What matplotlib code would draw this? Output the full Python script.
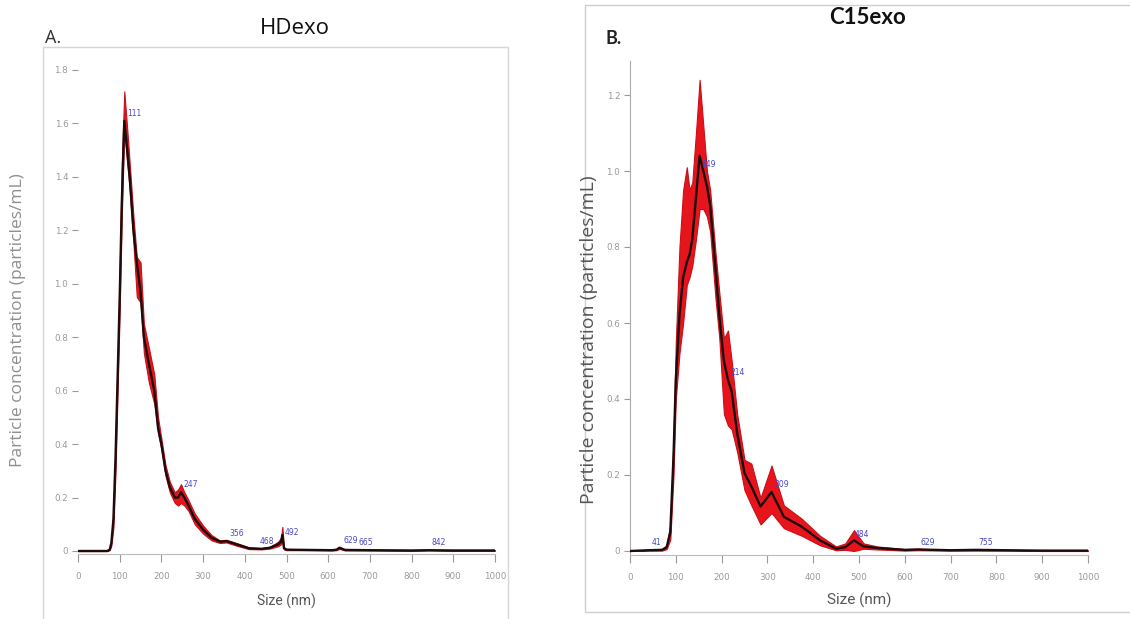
import numpy as np
import matplotlib
matplotlib.use("Agg")
import matplotlib.pyplot as plt
from matplotlib.patches import Rectangle

W, H = 1130, 619

# ---- HDexo (panel A) ----
hd_size = [0, 70, 76, 80, 85, 90, 95, 100, 105, 111, 118, 124, 133, 141, 150, 158, 170, 183, 192, 200,
           210, 220, 232, 240, 247, 255, 265, 280, 300, 320, 340, 356, 380, 410, 440, 460, 469, 480, 487, 490,
           494, 500, 550, 610, 620, 627, 640, 700, 800, 842, 900, 1000]
hd_mean = [0, 0, 0.005, 0.03, 0.12, 0.35, 0.65, 0.95, 1.3, 1.61, 1.5, 1.4, 1.2, 1.08, 0.97, 0.8, 0.7, 0.6, 0.46, 0.4,
           0.3, 0.24, 0.2, 0.2, 0.22, 0.2, 0.17, 0.12, 0.08, 0.05, 0.035, 0.037, 0.025, 0.01, 0.008, 0.012, 0.018, 0.025, 0.035, 0.06,
           0.01, 0.005, 0.004, 0.003, 0.005, 0.012, 0.004, 0.003, 0.002, 0.003, 0.002, 0.002]
hd_hi = [0, 0, 0.008, 0.04, 0.15, 0.4, 0.72, 1.05, 1.45, 1.72, 1.58, 1.45, 1.25, 1.1, 1.08, 0.85, 0.76, 0.66, 0.5, 0.42,
         0.32, 0.26, 0.22, 0.23, 0.25, 0.22, 0.19, 0.14, 0.095, 0.06, 0.04, 0.042, 0.03, 0.014, 0.011, 0.016, 0.024, 0.035, 0.05, 0.09,
         0.015, 0.007, 0.005, 0.004, 0.007, 0.016, 0.006, 0.004, 0.003, 0.004, 0.003, 0.003]
hd_lo = [0, 0, 0.003, 0.02, 0.09, 0.3, 0.6, 0.9, 1.25, 1.58, 1.45, 1.35, 1.15, 0.95, 0.93, 0.74, 0.63, 0.55, 0.44, 0.38,
         0.28, 0.22, 0.18, 0.17, 0.18, 0.17, 0.15, 0.1, 0.065, 0.04, 0.03, 0.032, 0.02, 0.007, 0.006, 0.009, 0.013, 0.018, 0.025, 0.04,
         0.006, 0.003, 0.003, 0.002, 0.003, 0.008, 0.002, 0.002, 0.001, 0.002, 0.001, 0.001]
hd_peaks = [111, 247, 356, 468, 492, 629, 665, 842]
hd_yticks = [0, 0.2, 0.4, 0.6, 0.8, 1.0, 1.2, 1.4, 1.6, 1.8]

# ---- C15exo (panel B) ----
c_size = [0, 40, 70, 80, 88, 95, 100, 108, 116, 124, 130, 136, 144, 152, 160, 168, 175, 187, 195, 205,
          214, 222, 234, 250, 265, 285, 309, 336, 375, 415, 450, 470, 489, 510, 540, 600, 629, 700, 755, 820,
          900, 1000]
c_mean = [0, 0.002, 0.003, 0.01, 0.05, 0.25, 0.45, 0.62, 0.72, 0.76, 0.78, 0.82, 0.93, 1.04, 1.0, 0.96, 0.91, 0.74, 0.62, 0.5,
          0.45, 0.42, 0.31, 0.205, 0.17, 0.117, 0.155, 0.09, 0.064, 0.028, 0.006, 0.01, 0.028, 0.012, 0.008, 0.003, 0.004, 0.002, 0.003, 0.002,
          0.001, 0.001]
c_hi = [0, 0.003, 0.005, 0.015, 0.07, 0.3, 0.55, 0.8, 0.95, 1.01, 0.95, 0.97, 1.1, 1.24, 1.12, 1.0, 0.95, 0.78, 0.68, 0.56,
        0.58, 0.5, 0.36, 0.24, 0.23, 0.14, 0.225, 0.12, 0.085, 0.04, 0.012, 0.02, 0.055, 0.02, 0.012, 0.005, 0.006, 0.003, 0.004, 0.003,
        0.002, 0.002]
c_lo = [0, 0.001, 0.001, 0.005, 0.03, 0.2, 0.4, 0.52, 0.6, 0.7, 0.72, 0.75, 0.82, 0.9, 0.9, 0.88, 0.84, 0.66, 0.56, 0.36,
        0.33, 0.32, 0.26, 0.16, 0.12, 0.07, 0.1, 0.06, 0.04, 0.015, 0.002, 0.003, 0.0, 0.006, 0.004, 0.001, 0.002, 0.001, 0.001, 0.001,
        0.0, 0.0]
c_peaks = [41, 149, 214, 309, 484, 629, 755]
c_yticks = [0, 0.2, 0.4, 0.6, 0.8, 1.0, 1.2]

xticks = list(range(0, 1001, 100))
ylabel = "Particle concentration (particles/mL)"

# label nudges (points) where two peak labels would collide
nudge = {468: (-10, 0), 492: (1, 3)}


def place(fig, px0, px1, py0, py1, xlim, ylim, d0, d1):
    # px0/px1: pixel of x=0 / x=1000, py0/py1: pixel of y=d0 / y=d1
    sx = (px1 - px0) / 1000.0
    sy = (py0 - py1) / (d1 - d0)
    left = px0 + xlim[0] * sx
    right = px0 + xlim[1] * sx
    bottom = py0 - (ylim[0] - d0) * sy
    top = py0 - (ylim[1] - d0) * sy
    return fig.add_axes([left / W, 1 - bottom / H, (right - left) / W, (bottom - top) / H])


def draw(ax, size, mean, lo, hi, peaks, yticks, show_left):
    ax.fill_between(size, lo, hi, color="#e8141b", lw=0.8, ec="#c8101a", zorder=2)
    ax.plot(size, mean, color="#1c0c0c", lw=1.7, zorder=3, solid_joinstyle="round")
    for p in peaks:
        dx, dy = nudge.get(p, (2, 2))
        ax.annotate(str(p), (p, np.interp(p, size, mean)), xytext=(dx, dy), textcoords="offset points",
                    fontsize=5.5, color="#4848c8", ha="left", va="bottom", zorder=4)
    ax.set_xticks(xticks)
    ax.set_xticklabels([str(t) for t in xticks])
    ax.set_yticks(yticks)
    ax.set_yticklabels(["0" if t == 0 else "%.1f" % t for t in yticks])
    ax.tick_params(axis="both", labelsize=6.3, colors="#999999", width=0.8)
    ax.tick_params(axis="y", length=4, pad=3)
    ax.tick_params(axis="x", length=6, pad=7)
    for s in ["top", "right"]:
        ax.spines[s].set_visible(False)
    ax.spines["left"].set_visible(show_left)
    ax.spines["left"].set_color("#aaaaaa")
    ax.spines["bottom"].set_color("#bbbbbb")
    ax.patch.set_alpha(0)


fig = plt.figure(figsize=(W / 100, H / 100), dpi=100)

# panel frames
fig.patches.append(Rectangle((43 / W, 1 - 630 / H), (508 - 43) / W, (630 - 47) / H, transform=fig.transFigure,
                             fill=False, ec="#d6d6d6", lw=1))
fig.patches.append(Rectangle((585 / W, 1 - 612 / H), (1140 - 585) / W, (612 - 5) / H, transform=fig.transFigure,
                             fill=False, ec="#cfcfcf", lw=1))

axA = place(fig, 78, 495, 551, 70, (0, 1000), (-0.012, 1.82), 0, 1.8)
axA.set_xlim(0, 1000)
axA.set_ylim(-0.012, 1.82)
draw(axA, hd_size, hd_mean, hd_lo, hd_hi, hd_peaks, hd_yticks, False)
axA.set_xlabel("Size (nm)", fontsize=10, color="#555555", labelpad=9,
               family=["Liberation Sans Narrow", "Roboto", "DejaVu Sans"])
fig.text(18 / W, 1 - 320 / H, ylabel, rotation=90, ha="center", va="center", fontsize=12.5,
         color="#8f8f8f", family=["Open Sans", "DejaVu Sans"])

axB = place(fig, 630, 1088, 551, 95, (0, 1000), (-0.01, 1.29), 0, 1.2)
axB.set_xlim(0, 1000)
axB.set_ylim(-0.01, 1.29)
draw(axB, c_size, c_mean, c_lo, c_hi, c_peaks, c_yticks, True)
axB.set_xlabel("Size (nm)", fontsize=11, color="#555555", labelpad=8,
               family=["Liberation Sans Narrow", "Roboto", "DejaVu Sans"])
fig.text(589 / W, 1 - 340 / H, ylabel, rotation=90, ha="center", va="center", fontsize=14,
         color="#555555", family=["Open Sans", "DejaVu Sans"])

# titles and panel letters
fig.text(295 / W, 1 - 28 / H, "HDexo", ha="center", va="center", fontsize=16, color="#111111",
         family=["Open Sans", "DejaVu Sans"])
fig.text(45 / W, 1 - 38 / H, "A.", ha="left", va="center", fontsize=13, color="#333333",
         family=["Open Sans", "DejaVu Sans"])
fig.text(868 / W, 1 - 18 / H, "C15exo", ha="center", va="center", fontsize=16, fontweight="bold",
         color="#111111", family=["Lato", "DejaVu Sans"])
fig.text(605 / W, 1 - 38 / H, "B.", ha="left", va="center", fontsize=13, fontweight="bold",
         color="#222222", family=["Lato", "DejaVu Sans"])

fig.savefig("out.png", dpi=100)
